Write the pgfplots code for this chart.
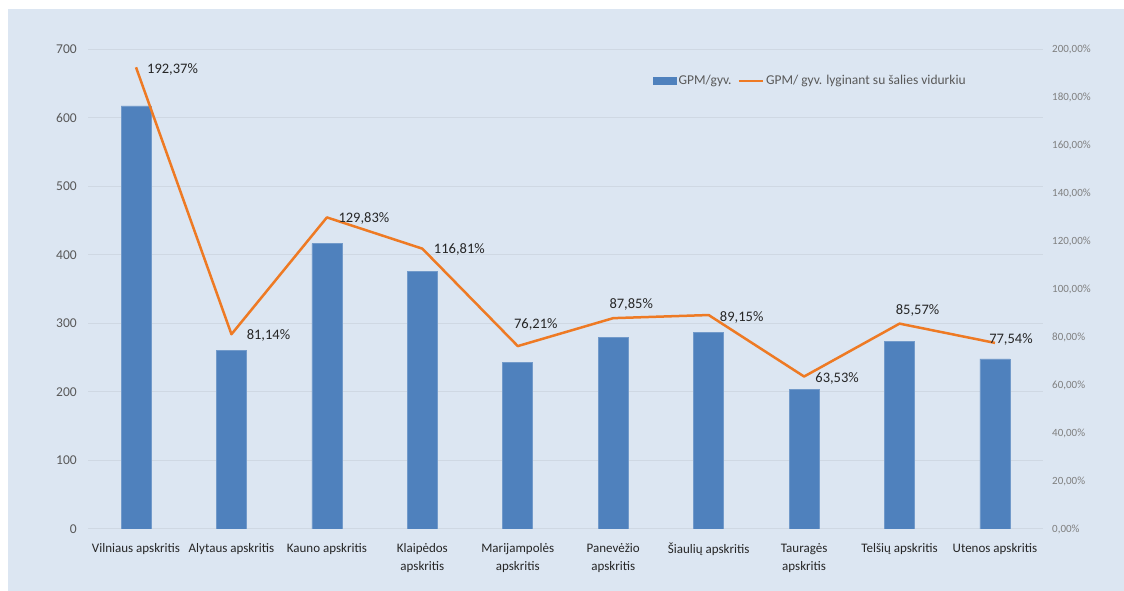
\documentclass[border=0pt]{standalone}
\usepackage{fontspec}
\setmainfont{Carlito}
\usepackage{pgfplots}
\usepackage{pgfplotstable}
\pgfplotsset{compat=1.18}
\definecolor{panel}{HTML}{DCE6F2}
\definecolor{barblue}{HTML}{4F81BD}
\definecolor{lineorange}{HTML}{EE7A24}
\definecolor{gridc}{HTML}{CFD8E3}
\definecolor{ticktxt}{HTML}{595959}
\definecolor{ticktxtb}{HTML}{7F7F7F}
\definecolor{labtxt}{HTML}{262626}

\pgfplotstableread{
x gpm
0 617
1 260
2 416
3 375
4 243.5
5 280
6 286
7 203
8 273
9 248
}\gpmtable

\pgfplotstableread{
x pct dx dy
0 192.37 36.5 -1.7
1 81.14 37 -1.7
2 129.83 37 -0.6
3 116.81 37 -1.3
4 76.21 18 22
5 87.85 18 14
6 89.15 33 -2
7 63.53 33 -1.5
8 85.57 18 13.6
9 77.54 16 3
}\pcttable

\begin{document}
\begin{tikzpicture}[x=1pt,y=1pt]
\fill[white] (0,0) rectangle (1124,591);
\fill[panel] (8,0) rectangle (1124,582);
\begin{axis}[
  at={(88.3pt,62pt)}, anchor=south west,
  scale only axis, width=954.4pt, height=480pt,
  xmin=-0.5, xmax=9.5, ymin=0, ymax=700,
  ytick={0,100,...,700},
  xtick={0,...,9},
  xticklabels={Vilniaus apskritis, Alytaus apskritis, Kauno apskritis, {Klaipėdos\\apskritis}, {Marijampolės\\apskritis}, {Panevėžio\\apskritis}, Šiaulių apskritis, {Tauragės\\apskritis}, Telšių apskritis, Utenos apskritis},
  xticklabel style={align=center, anchor=north, text=labtxt, font=\fontsize{13}{18}\selectfont, yshift=-10.5pt},
  yticklabel style={text=ticktxt, font=\fontsize{13.5}{16}\selectfont, xshift=-8pt},
  /pgf/number format/assume math mode=true,
  ymajorgrids, grid style={gridc, line width=1pt},
  axis line style={draw=none}, tick style={draw=none}, major tick length=0pt,
]
\addplot[ybar, bar width=30pt, fill=barblue, draw=barblue!80!white, line width=0.8pt] table[x=x,y=gpm]{\gpmtable};
\end{axis}
\begin{axis}[
  at={(88.3pt,62pt)}, anchor=south west,
  scale only axis, width=954.4pt, height=480pt,
  xmin=-0.5, xmax=9.5, ymin=0, ymax=200,
  axis y line*=right, axis x line=none,
  ytick={0,20,...,200},
  yticklabel={\pgfmathprintnumber[fixed,fixed zerofill,precision=2,use comma]{\tick}\%},
  yticklabel style={text=ticktxtb, font=\fontsize{11}{13}\selectfont, xshift=6pt},
  /pgf/number format/assume math mode=true,
  axis line style={draw=none}, tick style={draw=none}, major tick length=0pt,
  legend style={at={(0.5917,0.9333)}, anchor=west, draw=none, fill=none, inner sep=0pt,
    font=\fontsize{13.5}{16}\selectfont, text=ticktxt,
    nodes={inner xsep=2pt, inner ysep=1pt},
    /tikz/every even column/.append style={column sep=4pt}},
  legend columns=2,
]
\addlegendimage{legend image code/.code={\fill[barblue] (0pt,-3.5pt) rectangle (23pt,3.5pt);}}
\addlegendentry{GPM/gyv.}
\addplot[lineorange, line width=2.5pt, line join=round, no markers,
  legend image code/.code={\draw[lineorange, line width=2.5pt] (0pt,0pt) -- (24pt,0pt);},
  point meta=y,
  visualization depends on={\thisrow{dx}\as\dx},
  visualization depends on={\thisrow{dy}\as\dy},
  nodes near coords={\pgfmathprintnumber[fixed,fixed zerofill,precision=2,use comma]{\pgfplotspointmeta}\%},
  nodes near coords style={anchor=center, xshift=\dx pt, yshift=\dy pt, text=labtxt, font=\fontsize{14.5}{16}\selectfont, inner sep=0pt},
] table[x=x,y=pct]{\pcttable};
\addlegendentry{GPM/ gyv. lyginant su šalies vidurkiu}
\end{axis}
\end{tikzpicture}
\end{document}
